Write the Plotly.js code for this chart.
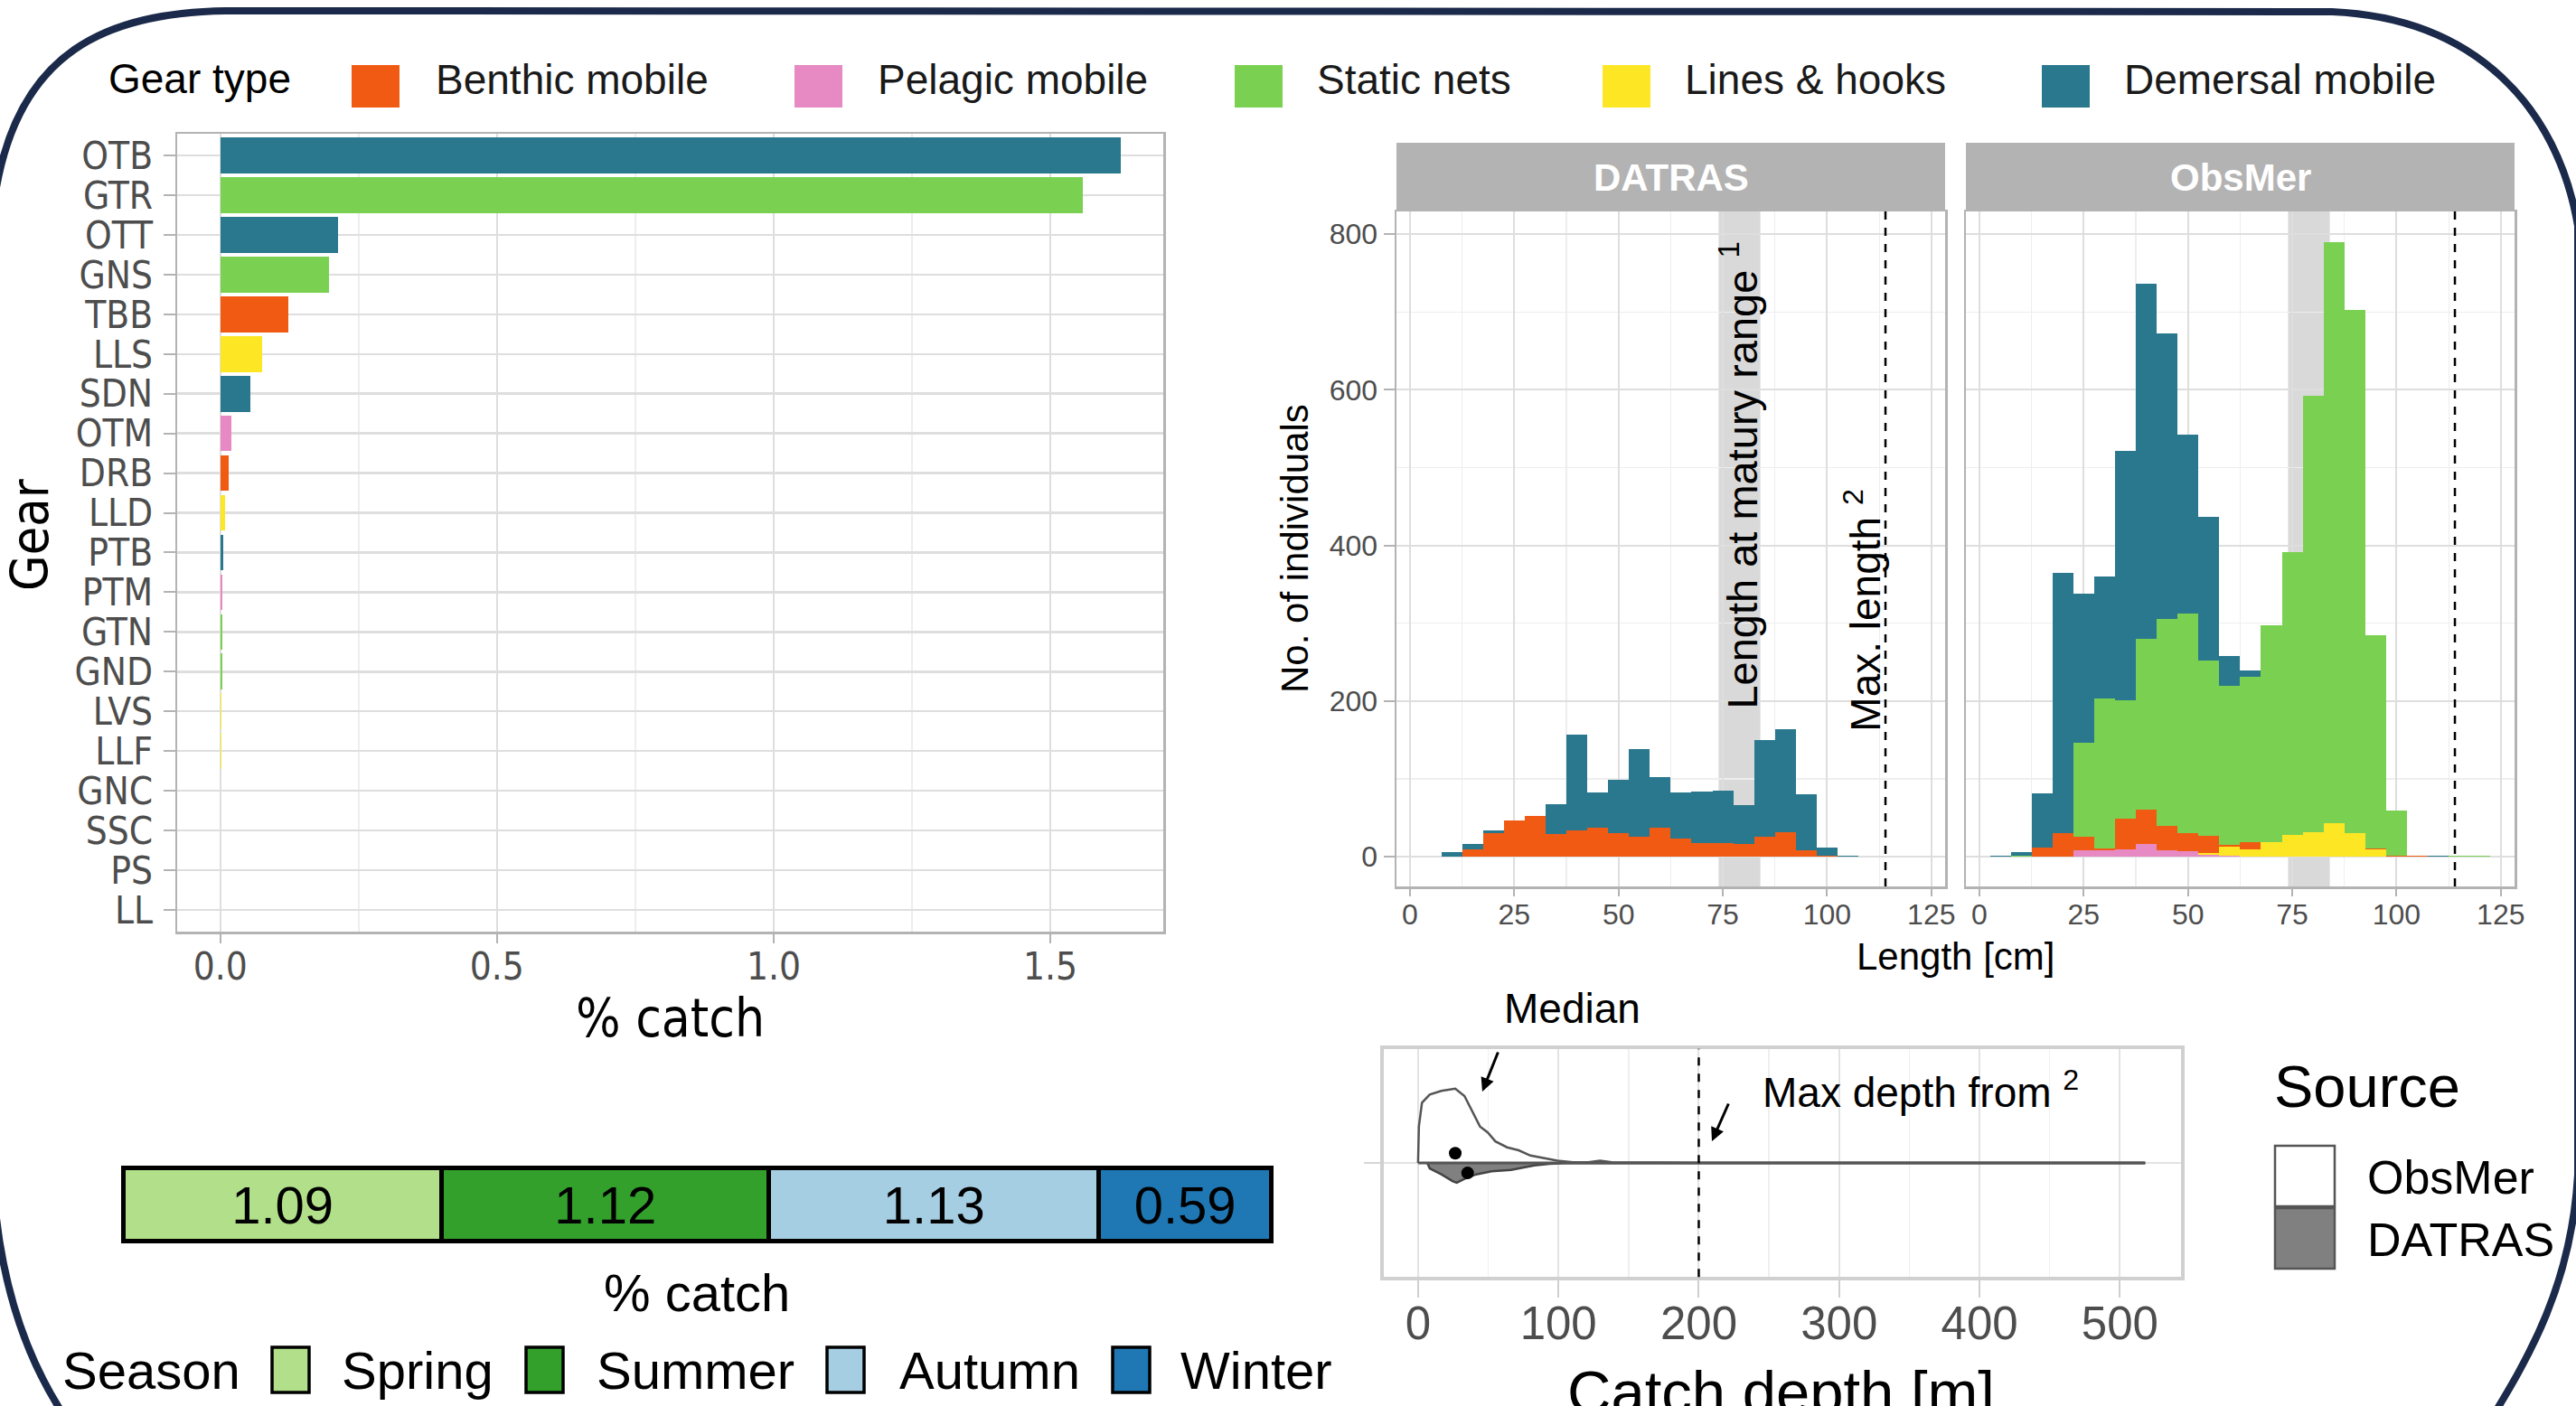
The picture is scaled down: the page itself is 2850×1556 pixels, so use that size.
<!DOCTYPE html>
<html><head><meta charset="utf-8">
<script src="https://cdn.plot.ly/plotly-3.0.1.min.js"></script>
<style>html,body{margin:0;padding:0;background:#fff;} #chart{width:2850px;height:1556px;}</style>
</head><body><div id="chart"></div>
<script>
// ---------------- DATA ----------------
const gearCodes = ['OTB','GTR','OTT','GNS','TBB','LLS','SDN','OTM','DRB','LLD','PTB','PTM','GTN','GND','LVS','LLF','GNC','SSC','PS','LL'];
const gearCatch = [1.627,1.559,0.212,0.196,0.123,0.076,0.055,0.020,0.015,0.008,0.006,0.004,0.004,0.004,0.002,0.002,0.001,0.001,0.0008,0.0005];
const gearCodeType = ['Demersal mobile','Static nets','Demersal mobile','Static nets','Benthic mobile','Lines & hooks','Demersal mobile','Pelagic mobile','Benthic mobile','Lines & hooks','Demersal mobile','Pelagic mobile','Static nets','Static nets','Lines & hooks','Lines & hooks','Pelagic mobile','Demersal mobile','Pelagic mobile','Lines & hooks'];
const gearTypes = ['Benthic mobile','Pelagic mobile','Static nets','Lines & hooks','Demersal mobile'];
const gearTypeColors = ['#F15A12','#E78AC3','#7AD151','#FDE725','#2A788E'];
const gearAxisTicks = [0, 0.5, 1.0, 1.5];
const gearAxisTickText = ['0.0','0.5','1.0','1.5'];

const lengthBins = [5,10,15,20,25,30,35,40,45,50,55,60,65,70,75,80,85,90,95,100,105,110,115,120];
const datrasPelagic  = [0,0,0,0,0,0,0,0,0,0,0,0,0,0,0,0,0,0,0,0,0,0,0,0];
const datrasLines    = [0,0,0,0,0,0,0,0,0,0,0,0,0,0,0,0,0,0,0,0,0,0,0,0];
const datrasBenthic  = [0,0,10,31,47,52,29,34,38,31,26,37,23,18,18,17,26,32,9,2,0,0,0,0];
const datrasStatic   = [0,0,0,0,0,0,0,0,0,0,0,0,0,0,0,0,0,0,0,0,0,0,0,0];
const datrasDemersal = [0,6,7,3,0,0,39,123,45,68,112,65,60,66,67,50,124,132,71,10,1,0,0,0];
const obsPelagic  = [0,0,0,0,8,8,10,16,9,7,3,1,0,0,0,0,0,0,0,0,0,0,0,0];
const obsLines    = [0,0,0,0,0,0,0,0,0,0,2,12,10,19,28,32,43,30,10,0,0,0,0,0];
const obsBenthic  = [0,0,12,30,18,3,39,45,31,24,22,2,9,0,0,0,0,0,1,1,1,0,0,0];
const obsStatic   = [0,1,0,0,120,192,152,219,266,281,225,205,212,278,363,560,747,673,274,59,1,0,1,1];
const obsDemersal = [1,5,69,335,192,157,320,456,366,230,185,38,8,0,0,0,0,0,0,0,0,1,0,0];
const maturityRange = [74, 84];
const maxLength = 114;
const lengthTicks = [0,25,50,75,100,125];
const countTicks = [0,200,400,600,800];

const obsDepth    = [0,0.6,2.8,8.3,16.6,26.5,33.1,38.6,44.1,49.6,55.1,63.4,71.7,80,88.3,99.3,110.3,121.3,129.6,137.8,200,300,400,518];
const obsDensity  = [0,0.49,0.81,0.92,0.97,1.0,0.90,0.70,0.49,0.41,0.29,0.21,0.17,0.10,0.07,0.03,0.01,0.01,0.03,0.01,0.004,0.004,0.004,0.004];
const datDepth    = [6.6,8.3,16.6,24.8,27.6,33.1,41.4,52.4,66.2,74.5,82.8,93.7,104.8,200,518];
const datDensity  = [0,0.073,0.154,0.247,0.267,0.215,0.154,0.113,0.094,0.064,0.033,0.012,0.004,0.002,0.002];
const medianDepth = [26.5, 35.3];   // ObsMer, DATRAS
const maxDepth = 200;
const depthTicks = [0,100,200,300,400,500];
const sources = ['ObsMer','DATRAS'];

const seasons = ['Spring','Summer','Autumn','Winter'];
const seasonCatch = [1.09,1.12,1.13,0.59];
const seasonColors = ['#B2DF8A','#33A02C','#A6CEE3','#1F78B4'];

// ---------------- LAYOUT HELPERS ----------------
const W = 2850, H = 1556;
const px = x => x / W;
const py = y => 1 - y / H;
const NARROW = '"Liberation Sans Narrow", "Arial Narrow", "DejaVu Sans Condensed", "Liberation Sans", sans-serif';
const SANS = '"Liberation Sans", Arial, sans-serif';
const GRAY30 = '#4D4D4D';
const typeColor = t => gearTypeColors[gearTypes.indexOf(t)];

const data = [];
// Left: gear bars
data.push({
  type:'bar', orientation:'h', x: gearCatch, y: gearCodes, xaxis:'x', yaxis:'y',
  marker:{color: gearCodeType.map(typeColor), line:{width:0}}, width:0.9, showlegend:false, hoverinfo:'skip'
});
// Histograms
const stackOrder = [
  ['Pelagic mobile', datrasPelagic, obsPelagic],
  ['Lines & hooks', datrasLines, obsLines],
  ['Benthic mobile', datrasBenthic, obsBenthic],
  ['Static nets', datrasStatic, obsStatic],
  ['Demersal mobile', datrasDemersal, obsDemersal]
];
stackOrder.forEach(([t, d, o]) => {
  data.push({type:'bar', x: lengthBins, y: d, width:5, xaxis:'x2', yaxis:'y2', marker:{color:typeColor(t), line:{width:0}}, showlegend:false, hoverinfo:'skip'});
  data.push({type:'bar', x: lengthBins, y: o, width:5, xaxis:'x3', yaxis:'y3', marker:{color:typeColor(t), line:{width:0}}, showlegend:false, hoverinfo:'skip'});
});
// Depth half-violins
data.push({type:'scatter', mode:'lines', x: obsDepth, y: obsDensity, xaxis:'x4', yaxis:'y4', fill:'tozeroy', fillcolor:'#FFFFFF', line:{color:'#555555', width:2.5}, showlegend:false, hoverinfo:'skip'});
data.push({type:'scatter', mode:'lines', x: datDepth, y: datDensity.map(v=>-v), xaxis:'x4', yaxis:'y4', fill:'tozeroy', fillcolor:'#808080', line:{color:'#444444', width:2.5}, showlegend:false, hoverinfo:'skip'});
data.push({type:'scatter', mode:'lines', x:[obsDepth[0], obsDepth[obsDepth.length-1]], y:[0,0], xaxis:'x4', yaxis:'y4', line:{color:'#555555', width:3}, showlegend:false, hoverinfo:'skip'});
data.push({type:'scatter', mode:'markers', x: medianDepth, y:[0.13,-0.135], xaxis:'x4', yaxis:'y4', marker:{color:'#000', size:14}, showlegend:false, hoverinfo:'skip'});
// Season bar
seasons.forEach((s,i) => {
  data.push({type:'bar', orientation:'h', x:[seasonCatch[i]], y:[0], xaxis:'x5', yaxis:'y5', width:1,
    marker:{color:seasonColors[i], line:{color:'#000', width:5}},
    text:[seasonCatch[i].toFixed(2)], textposition:'inside', insidetextanchor:'middle', constraintext:'none',
    textfont:{family:SANS, size:58, color:'#000'}, showlegend:false, hoverinfo:'skip'});
});

const gridCol = '#DEDEDE', minorCol = '#EEEEEE', borderCol = '#B3B3B3';
const layout = {
  width: W, height: H, margin:{l:0,r:0,t:0,b:0}, paper_bgcolor:'#fff', plot_bgcolor:'#fff',
  barmode:'stack', bargap:0, showlegend:false,
  xaxis:{domain:[px(196),px(1287)], range:[-0.078,1.704], anchor:'y', tickvals:gearAxisTicks, ticktext:gearAxisTickText,
    tickfont:{family:NARROW, size:42, color:GRAY30}, ticks:'outside', ticklen:10, tickwidth:2, tickcolor:borderCol, ticklabelstandoff:-10,
    showgrid:true, gridcolor:gridCol, gridwidth:2.5, zeroline:false, showline:true, mirror:true, linecolor:borderCol, linewidth:2.5,
    minor:{tickvals:[0.25,0.75,1.25], showgrid:true, gridcolor:minorCol, gridwidth:1.5, ticks:''}},
  yaxis:{domain:[py(1031),py(148)], type:'category', categoryarray:gearCodes, categoryorder:'array', tickmode:'array', tickvals:gearCodes,
    range:[19.55,-0.55], anchor:'x',
    tickfont:{family:NARROW, size:42, color:GRAY30}, ticks:'outside', ticklen:13, tickwidth:2, tickcolor:borderCol, ticklabelstandoff:3,
    showgrid:true, gridcolor:gridCol, gridwidth:2.5, zeroline:false, showline:true, mirror:true, linecolor:borderCol, linewidth:2.5},
  xaxis2:{domain:[px(1545),px(2152)], range:[-3.25,128.3], anchor:'y2', tickvals:lengthTicks,
    tickfont:{family:SANS, size:32, color:GRAY30}, ticks:'outside', ticklen:8, tickwidth:2, tickcolor:borderCol, ticklabelstandoff:-7,
    showgrid:true, gridcolor:gridCol, gridwidth:2, zeroline:false, showline:true, mirror:true, linecolor:borderCol, linewidth:2.5,
    minor:{tickvals:[12.5,37.5,62.5,87.5,112.5], showgrid:true, gridcolor:minorCol, gridwidth:1.2, ticks:''}},
  yaxis2:{domain:[py(981),py(234)], range:[-38,829], anchor:'x2', tickvals:countTicks,
    tickfont:{family:SANS, size:32, color:GRAY30}, ticks:'outside', ticklen:12, tickwidth:2, tickcolor:borderCol,
    showgrid:true, gridcolor:gridCol, gridwidth:2, zeroline:false, showline:true, mirror:true, linecolor:borderCol, linewidth:2.5,
    minor:{tickvals:[100,300,500,700], showgrid:true, gridcolor:minorCol, gridwidth:1.2, ticks:''}},
  xaxis3:{domain:[px(2175),px(2782)], range:[-3.25,128.3], anchor:'y3', tickvals:lengthTicks,
    tickfont:{family:SANS, size:32, color:GRAY30}, ticks:'outside', ticklen:8, tickwidth:2, tickcolor:borderCol, ticklabelstandoff:-7,
    showgrid:true, gridcolor:gridCol, gridwidth:2, zeroline:false, showline:true, mirror:true, linecolor:borderCol, linewidth:2.5,
    minor:{tickvals:[12.5,37.5,62.5,87.5,112.5], showgrid:true, gridcolor:minorCol, gridwidth:1.2, ticks:''}},
  yaxis3:{domain:[py(981),py(234)], range:[-38,829], anchor:'x3', tickvals:countTicks, showticklabels:false, ticks:'',
    showgrid:true, gridcolor:gridCol, gridwidth:2, zeroline:false, showline:true, mirror:true, linecolor:borderCol, linewidth:2.5,
    minor:{tickvals:[100,300,500,700], showgrid:true, gridcolor:minorCol, gridwidth:1.2, ticks:''}},
  xaxis4:{domain:[px(1531),px(2412.6)], range:[-24.4,543.3], anchor:'y4', tickvals:depthTicks,
    tickfont:{family:SANS, size:51, color:GRAY30}, ticks:'outside', ticklen:19, tickwidth:2, tickcolor:'#CFCFCF', ticklabelstandoff:-16,
    showgrid:true, gridcolor:'#E3E3E3', gridwidth:2, zeroline:false, showline:true, mirror:true, linecolor:'#D0D0D0', linewidth:4,
    minor:{tickvals:[50,150,250,350,450], showgrid:true, gridcolor:'#EFEFEF', gridwidth:1.5, ticks:''}},
  yaxis4:{domain:[py(1413.3),py(1160.7)], range:[-1.535,1.535], anchor:'x4', tickvals:[0], ticktext:[''], ticks:'outside', ticklen:18, tickwidth:2, tickcolor:'#D5D5D5',
    showgrid:true, gridcolor:'#E3E3E3', gridwidth:2, zeroline:false, showline:true, mirror:true, linecolor:'#D0D0D0', linewidth:4},
  xaxis5:{domain:[px(126),px(1417)], range:[-0.0325,3.9625], anchor:'y5', visible:false},
  yaxis5:{domain:[py(1400),py(1266)], range:[-0.822,0.822], anchor:'x5', visible:false},
  shapes:[], annotations:[]
};
const S = layout.shapes, A = layout.annotations;

// Strips
[[1545,2152,'DATRAS'],[2175,2782,'ObsMer']].forEach(([x0,x1,lab]) => {
  S.push({type:'rect', xref:'paper', yref:'paper', x0:px(x0), x1:px(x1), y0:py(234), y1:py(158), fillcolor:'#B3B3B3', line:{width:0}});
  A.push({xref:'paper', yref:'paper', x:px((x0+x1)/2), y:py(196), text:'<b>'+lab+'</b>', showarrow:false, xanchor:'center', yanchor:'middle',
    font:{family:SANS, size:42, color:'#FFFFFF'}});
});
// Maturity bands and max length lines
['x2','x3'].forEach((xr,i) => {
  const yr = i===0 ? 'y2 domain' : 'y3 domain';
  S.push({type:'rect', xref:xr, yref:yr, x0:maturityRange[0], x1:maturityRange[1], y0:0, y1:1, fillcolor:'#D9D9D9', line:{width:0}, layer:'below'});
  S.push({type:'line', xref:xr, yref:yr, x0:maxLength, x1:maxLength, y0:0, y1:1, line:{color:'#000', width:2.5, dash:'dash'}});
});
A.push({xref:'x2', yref:'y2', x:(maturityRange[0]+maturityRange[1])/2, y:490, text:'Length at matury range <sup>1</sup>', textangle:-90, showarrow:false,
  xanchor:'center', yanchor:'middle', font:{family:SANS, size:47, color:'#000'}});
A.push({xref:'x2', yref:'y2', x:108.5, y:316, text:'Max. length <sup>2</sup>', textangle:-90, showarrow:false,
  xanchor:'center', yanchor:'middle', font:{family:SANS, size:46, color:'#000'}});
A.push({xref:'paper', yref:'paper', x:px(1432), y:py(607), text:'No. of individuals', textangle:-90, showarrow:false,
  xanchor:'center', yanchor:'middle', font:{family:SANS, size:42, color:'#000'}});
A.push({xref:'paper', yref:'paper', x:px(2163), y:py(1058), text:'Length [cm]', showarrow:false,
  xanchor:'center', yanchor:'middle', font:{family:SANS, size:42, color:'#000'}});

// Left chart titles
A.push({xref:'paper', yref:'paper', x:px(33), y:py(592), text:'Gear', textangle:-90, showarrow:false,
  xanchor:'center', yanchor:'middle', font:{family:NARROW, size:57, color:'#000'}});
A.push({xref:'paper', yref:'paper', x:px(741), y:py(1127), text:'% catch', showarrow:false,
  xanchor:'center', yanchor:'middle', font:{family:NARROW, size:58, color:'#000'}});

// Gear type legend
const gearLegendBoxX = [389, 879, 1366, 1773, 2259];
const gearLegendTextX = [480, 969, 1455, 1862, 2348];
A.push({xref:'paper', yref:'paper', x:px(118), y:py(87), text:'Gear type', showarrow:false, xanchor:'left', yanchor:'middle', font:{family:SANS, size:46, color:'#000'}});
gearTypes.forEach((t,i) => {
  S.push({type:'rect', xref:'paper', yref:'paper', x0:px(gearLegendBoxX[i]), x1:px(gearLegendBoxX[i]+53), y0:py(119), y1:py(72), fillcolor:gearTypeColors[i], line:{width:0}});
  A.push({xref:'paper', yref:'paper', x:px(gearLegendTextX[i]), y:py(88), text:t, showarrow:false, xanchor:'left', yanchor:'middle', font:{family:SANS, size:46, color:'#1A1A1A'}});
});

// Depth chart annotations
S.push({type:'line', xref:'x4', yref:'y4 domain', x0:maxDepth, x1:maxDepth, y0:0, y1:1, line:{color:'#000', width:2.5, dash:'dash'}});
A.push({xref:'paper', yref:'paper', x:px(1739), y:py(1116), text:'Median', showarrow:false, xanchor:'center', yanchor:'middle', font:{family:SANS, size:46, color:'#000'}});
A.push({xref:'paper', yref:'paper', x:px(1640), y:py(1208), ax:18, ay:-45, text:'', showarrow:true, arrowhead:2, arrowsize:1, arrowwidth:3, arrowcolor:'#000', standoff:0});
A.push({xref:'paper', yref:'paper', x:px(1948), y:py(1206), text:'Max depth from <sup>2</sup>', showarrow:false, xanchor:'left', yanchor:'middle', font:{family:SANS, size:46, color:'#000'}});
A.push({xref:'paper', yref:'paper', x:px(1894), y:py(1263), ax:19, ay:-43, text:'', showarrow:true, arrowhead:2, arrowsize:1, arrowwidth:3, arrowcolor:'#000', standoff:0});
A.push({xref:'paper', yref:'paper', x:px(1970), y:py(1540), text:'Catch depth [m]', showarrow:false, xanchor:'center', yanchor:'middle', font:{family:SANS, size:67, color:'#000'}});
// Source legend
A.push({xref:'paper', yref:'paper', x:px(2514), y:py(1202), text:'Source', showarrow:false, xanchor:'left', yanchor:'middle', font:{family:SANS, size:65, color:'#000'}});
const sourceFill = ['#FFFFFF','#808080'];
const sourceKeyY = [1268, 1337];
sources.forEach((s,i) => {
  S.push({type:'rect', xref:'paper', yref:'paper', x0:px(2517), x1:px(2583), y0:py(sourceKeyY[i]+67), y1:py(sourceKeyY[i]), fillcolor:sourceFill[i], line:{color:'#555555', width:2.5}});
  A.push({xref:'paper', yref:'paper', x:px(2617), y:py(sourceKeyY[i]+35), text:s, showarrow:false, xanchor:'left', yanchor:'middle', font:{family:SANS, size:52, color:'#000'}});
});

// Season legend + title
A.push({xref:'paper', yref:'paper', x:px(771), y:py(1430), text:'% catch', showarrow:false, xanchor:'center', yanchor:'middle', font:{family:SANS, size:58, color:'#000'}});
A.push({xref:'paper', yref:'paper', x:px(67), y:py(1516), text:'Season', showarrow:false, xanchor:'left', yanchor:'middle', font:{family:SANS, size:58, color:'#000'}});
const seasonBoxX = [301, 582, 915, 1231];
const seasonTextX = [376, 658, 993, 1304];
seasons.forEach((s,i) => {
  S.push({type:'rect', xref:'paper', yref:'paper', x0:px(seasonBoxX[i]), x1:px(seasonBoxX[i]+41), y0:py(1541), y1:py(1491), fillcolor:seasonColors[i], line:{color:'#000', width:3.5}});
  A.push({xref:'paper', yref:'paper', x:px(seasonTextX[i]), y:py(1516), text:s, showarrow:false, xanchor:'left', yanchor:'middle', font:{family:SANS, size:58, color:'#000'}});
});

// Decorative rounded frame
const framePts = 'M 250 12 L 2580 13 C 2740 20 2830 120 2852 250 L 2852 1300 C 2845 1420 2800 1500 2750 1580 L 80 1580 C 30 1510 -2 1420 -8 1300 L -6 220 C 18 55 120 14 250 12 Z';
const framePath = framePts.replace(/(-?[\d.]+) (-?[\d.]+)/g, (m,a,b) => (parseFloat(a)/W).toFixed(5)+','+(1-parseFloat(b)/H).toFixed(5));
S.push({type:'path', xref:'paper', yref:'paper', path: framePath, line:{color:'#1B2A4A', width:8}, layer:'above'});

Plotly.newPlot('chart', data, layout, {displayModeBar:false, staticPlot:true});
</script></body></html>
